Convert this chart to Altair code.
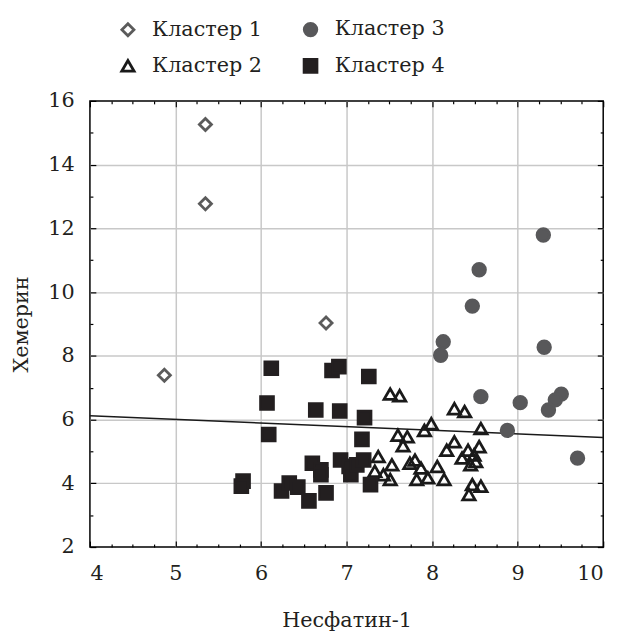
import altair as alt
import pandas as pd

# ---------------- data ----------------
cluster_names = ["Кластер 1", "Кластер 2", "Кластер 3", "Кластер 4"]

c1_x = [5.35, 5.35, 6.76, 4.87]
c1_y = [15.26, 12.77, 9.03, 7.39]

c2_x = [7.51, 7.62, 8.26, 8.38, 7.99, 7.91, 8.57, 7.60, 7.71, 7.66, 8.26,
        8.17, 8.55, 8.42, 8.35, 8.49, 8.51, 8.45, 7.37, 7.53, 7.80, 7.74,
        7.87, 8.06, 7.43, 7.51, 7.82, 7.95, 8.14, 8.47, 8.57, 8.43, 7.33]
c2_y = [6.80, 6.75, 6.34, 6.25, 5.87, 5.66, 5.72, 5.51, 5.46, 5.18, 5.30,
        5.04, 5.15, 5.04, 4.79, 4.89, 4.68, 4.58, 4.84, 4.58, 4.73, 4.63,
        4.48, 4.53, 4.27, 4.12, 4.12, 4.17, 4.12, 3.96, 3.91, 3.65, 4.38]

c3_x = [9.30, 8.55, 8.47, 8.13, 8.10, 9.31, 8.57, 9.03, 9.51, 9.44, 9.36,
        8.88, 9.70]
c3_y = [11.79, 10.70, 9.56, 8.44, 8.02, 8.27, 6.72, 6.53, 6.80, 6.62, 6.30,
        5.66, 4.79]

c4_x = [6.12, 6.83, 6.91, 7.26, 6.07, 6.64, 6.92, 7.21, 6.09, 7.18, 6.60,
        6.70, 6.70, 6.93, 7.03, 7.05, 7.12, 7.20, 7.28, 5.79, 5.77, 6.24,
        6.33, 6.43, 6.56, 6.76]
c4_y = [7.61, 7.54, 7.66, 7.35, 6.52, 6.30, 6.27, 6.06, 5.53, 5.38, 4.63,
        4.42, 4.27, 4.73, 4.53, 4.27, 4.58, 4.73, 3.96, 4.07, 3.91, 3.76,
        4.01, 3.88, 3.45, 3.70]

line_x = [4, 10]
line_y = [6.12, 5.44]

x_major = [4, 5, 6, 7, 8, 9, 10]
x_minor = [i + f for i in range(4, 10) for f in (0.25, 0.5, 0.75)]
y_major = [2, 4, 6, 8, 10, 12, 14, 16]
y_minor = [3, 5, 7, 9, 11, 13, 15]

x_title = "Несфатин-1"
y_title = "Хемерин"

# ---------------- tables ----------------
rows = []
for name, xs, ys in [(cluster_names[1], c2_x, c2_y), (cluster_names[3], c4_x, c4_y),
                     (cluster_names[0], c1_x, c1_y), (cluster_names[2], c3_x, c3_y)]:
    rows += [{"x": a, "y": b, "cluster": name} for a, b in zip(xs, ys)]
pts = pd.DataFrame(rows)
line_df = pd.DataFrame({"x": line_x, "y": line_y})

# ---------------- style ----------------
FONT = "DejaVu Serif"
TXT = "#231f20"
FS = 21

order = cluster_names
shapes = ["diamond", "triangle-up", "circle", "square"]
fills = ["transparent", "transparent", "#58585a", "#231f20"]
strokes = ["#5b5b5b", "#1a1a1a", "#58585a", "#231f20"]
sizes = [150, 170, 230, 105]

XS = alt.Scale(domain=[4, 10], nice=False, zero=False)
YS = alt.Scale(domain=[2, 16], nice=False, zero=False)

x_grid_op = {"condition": {"test": "datum.value <= 4 || datum.value >= 10", "value": 0}, "value": 1}
y_grid_op = {"condition": {"test": "datum.value <= 2 || datum.value >= 16", "value": 0}, "value": 1}


def tick_axis(orient, values, size):
    return alt.Axis(orient=orient, values=values, offset=-size, tickSize=size,
                    tickWidth=1.2, tickColor="black", domain=False, grid=False,
                    labels=False, title=None)


bottom_axis = alt.Axis(
    orient="bottom", values=x_major, offset=-6, tickSize=6, tickWidth=1.2,
    tickColor="black", domain=False, grid=True, gridColor="#c8c8c8",
    gridWidth=1.5, gridOpacity=x_grid_op, labelFont=FONT, labelFontSize=FS,
    labelColor=TXT, labelPadding=16, title=x_title, titleFont=FONT,
    titleFontSize=FS, titleFontWeight="normal", titleColor=TXT,
    titleX=260, titleY=87, titleBaseline="alphabetic", titleAlign="center")

left_axis = alt.Axis(
    orient="left", values=y_major, offset=-6, tickSize=6, tickWidth=1.2,
    tickColor="black", domain=False, grid=True, gridColor="#c8c8c8",
    gridWidth=1.5, gridOpacity=y_grid_op, labelFont=FONT, labelFontSize=FS,
    labelColor=TXT, labelPadding=16, title=y_title, titleFont=FONT,
    titleFontSize=FS, titleFontWeight="normal", titleColor=TXT,
    titleX=-75, titleY=226, titleAngle=270, titleBaseline="middle",
    titleAlign="center")

legend = alt.Legend(
    title=None, orient="none", legendX=28, legendY=-83, columns=2,
    columnPadding=36, rowPadding=12, labelFont=FONT, labelFontSize=FS,
    labelColor=TXT, labelOffset=14, labelLimit=300, symbolStrokeWidth=2.8)

line_layer = alt.Chart(line_df).mark_line(color="#1a1a1a", strokeWidth=1.5).encode(
    x=alt.X("x:Q", scale=XS, axis=tick_axis("top", x_major, 6)),
    y=alt.Y("y:Q", scale=YS, axis=tick_axis("right", y_major, 6)),
)

points = alt.Chart(pts).mark_point(filled=True, opacity=1, strokeWidth=2.8).encode(
    x=alt.X("x:Q", scale=XS, axis=bottom_axis),
    y=alt.Y("y:Q", scale=YS, axis=left_axis),
    shape=alt.Shape("cluster:N", scale=alt.Scale(domain=order, range=shapes), legend=legend),
    fill=alt.Fill("cluster:N", scale=alt.Scale(domain=order, range=fills)),
    stroke=alt.Stroke("cluster:N", scale=alt.Scale(domain=order, range=strokes)),
    size=alt.Size("cluster:N", scale=alt.Scale(domain=order, range=sizes)),
)

minor1 = alt.Chart(line_df).mark_line(opacity=0).encode(
    x=alt.X("x:Q", scale=XS, axis=tick_axis("bottom", x_minor, 3)),
    y=alt.Y("y:Q", scale=YS, axis=tick_axis("left", y_minor, 3)),
)
minor2 = alt.Chart(line_df).mark_line(opacity=0).encode(
    x=alt.X("x:Q", scale=XS, axis=tick_axis("top", x_minor, 3)),
    y=alt.Y("y:Q", scale=YS, axis=tick_axis("right", y_minor, 3)),
)

chart = (
    alt.layer(line_layer, points, minor1, minor2)
    .resolve_axis(x="independent", y="independent")
    .properties(width=520, height=452,
                padding={"left": 83, "top": 90, "right": 16, "bottom": 85},
                autosize=alt.AutoSizeParams(type="none"),
                background="white")
    .configure_view(stroke="black", strokeWidth=1.5)
)

chart.save("out.html", embed_options={"renderer": "svg", "actions": False})
